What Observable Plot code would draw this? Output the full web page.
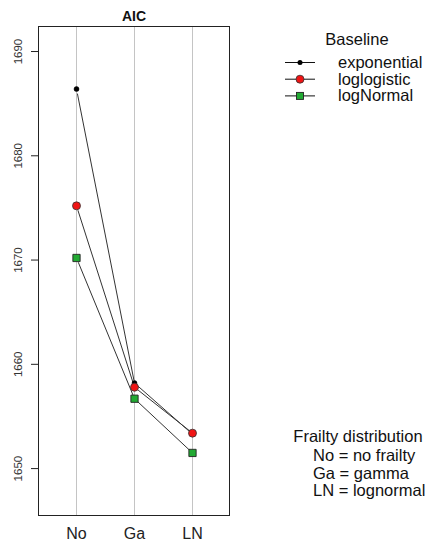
<!DOCTYPE html>
<html>
<head>
<meta charset="utf-8">
<script src="https://cdn.jsdelivr.net/npm/d3@7"></script>
<script src="https://cdn.jsdelivr.net/npm/@observablehq/plot@0.6"></script>
<style>
  html, body { margin: 0; padding: 0; background: #fff; }
  #chart { width: 429px; height: 542px; }
  svg { font-family: "Liberation Sans", Arial, sans-serif; }
</style>
</head>
<body>
<div id="chart"></div>
<script>
const categories = ["No", "Ga", "LN"];
const seriesNames = ["exponential", "loglogistic", "logNormal"];
const exponential = [1686.4, 1658.2, 1653.3];
const loglogistic = [1675.2, 1657.8, 1653.4];
const logNormal = [1670.2, 1656.7, 1651.5];
const yTicks = [1650, 1660, 1670, 1680, 1690];
const frailtyLines = ["No = no frailty", "Ga = gamma", "LN = lognormal"];

const seriesValues = [exponential, loglogistic, logNormal];
const points = [];
const segments = [];
seriesNames.forEach((s, k) => {
  const v = seriesValues[k];
  categories.forEach((c, i) => {
    points.push({series: s, cat: c, value: v[i]});
    if (i < categories.length - 1) {
      segments.push({series: s, c1: c, v1: v[i], c2: categories[i + 1], v2: v[i + 1]});
    }
  });
});

const fills = {exponential: "#000000", loglogistic: "#f01414", logNormal: "#22aa33"};

const plot = Plot.plot({
  width: 429,
  height: 542,
  marginLeft: 38,
  marginRight: 200,
  marginTop: 26,
  marginBottom: 27,
  style: {fontFamily: "Liberation Sans, Arial, sans-serif", background: "#fff"},
  x: {type: "point", domain: categories, padding: 0.62, label: null},
  y: {domain: [1645.5, 1692.4], label: null},
  marks: [
    Plot.ruleX(categories, {stroke: "#c4c4c4", strokeWidth: 1}),
    Plot.frame({stroke: "#222", strokeWidth: 1}),
    Plot.axisX({tickSize: 0, tickPadding: 12, fontSize: 16, fill: "#222", label: null}),
    Plot.axisY({ticks: yTicks, tickSize: 7, tickFormat: () => "", label: null, stroke: "#222"}),
    Plot.text(yTicks, {y: d => d, text: d => String(d), frameAnchor: "left", dx: -20, rotate: -90, textAnchor: "middle", lineAnchor: "middle", fontSize: 11.5, fill: "#333"}),
    Plot.text(["AIC"], {frameAnchor: "top", dy: -10, fontWeight: "bold", fontSize: 14, fill: "#111", lineAnchor: "middle"}),
    Plot.arrow(segments, {x1: "c1", y1: "v1", x2: "c2", y2: "v2", stroke: "#333", strokeWidth: 1, headLength: 0, insetStart: 5, insetEnd: 3, bend: 0}),
    Plot.dot(points.filter(d => d.series === "exponential"), {x: "cat", y: "value", r: 2.5, fill: "#000", stroke: "#000", strokeWidth: 0.5}),
    Plot.dot(points.filter(d => d.series === "loglogistic"), {x: "cat", y: "value", r: 4, fill: fills.loglogistic, stroke: "#333", strokeWidth: 0.8}),
    Plot.dot(points.filter(d => d.series === "logNormal"), {x: "cat", y: "value", r: 4.1, symbol: "square", fill: fills.logNormal, stroke: "#222", strokeWidth: 0.9})
  ]
});

document.getElementById("chart").appendChild(plot);

// Legends (drawn into the same SVG)
const svg = d3.select(plot);
const lg = svg.append("g").attr("font-family", "Liberation Sans, Arial, sans-serif").attr("fill", "#111").attr("text-anchor", "start");
lg.append("text").attr("x", 357).attr("y", 45).attr("text-anchor", "middle").attr("font-size", 16.5).text("Baseline");
seriesNames.forEach((s, i) => {
  const y = 62.5 + i * 16.7;
  lg.append("line").attr("x1", 285).attr("x2", 315).attr("y1", y).attr("y2", y).attr("stroke", "#111").attr("stroke-width", 1);
  if (s === "exponential") {
    lg.append("circle").attr("cx", 300).attr("cy", y).attr("r", 2.5).attr("fill", "#000");
  } else if (s === "loglogistic") {
    lg.append("circle").attr("cx", 300).attr("cy", y).attr("r", 4).attr("fill", fills[s]).attr("stroke", "#333").attr("stroke-width", 0.8);
  } else {
    lg.append("rect").attr("x", 296.5).attr("y", y - 3.5).attr("width", 7).attr("height", 7).attr("fill", fills[s]).attr("stroke", "#222").attr("stroke-width", 0.9);
  }
  lg.append("text").attr("x", 338).attr("y", y + 5.5).attr("text-anchor", "start").attr("font-size", 16.5).text(s);
});

lg.append("text").attr("x", 358).attr("y", 442).attr("text-anchor", "middle").attr("font-size", 16.5).text("Frailty distribution");
frailtyLines.forEach((t, i) => {
  lg.append("text").attr("x", 313).attr("y", 461 + i * 17.5).attr("text-anchor", "start").attr("font-size", 16.5).text(t);
});
</script>
</body>
</html>
